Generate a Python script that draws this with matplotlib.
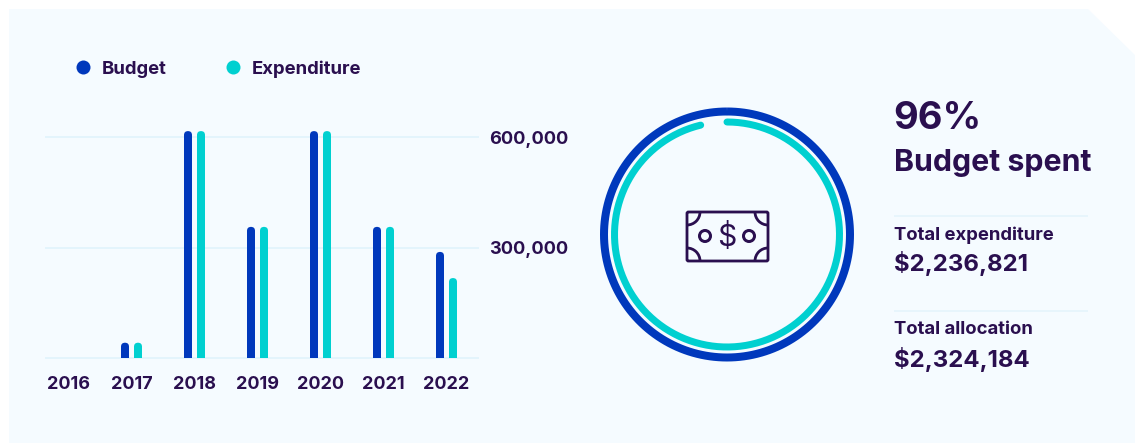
import numpy as np
import matplotlib
matplotlib.use("Agg")
import matplotlib.pyplot as plt
from matplotlib.lines import Line2D
from matplotlib.patches import Arc, Circle, FancyBboxPatch, Polygon

years = ["2016", "2017", "2018", "2019", "2020", "2021", "2022"]
budget = [0, 41500, 616000, 356000, 616000, 356000, 288000]
expenditure = [0, 41500, 616000, 356000, 616000, 356000, 217000]
y_ticks = [0, 300000, 600000]
y_tick_labels = ["", "300,000", "600,000"]
total_expenditure = 2236821
total_allocation = 2324184

INK = "#2A0F4F"
BLUE = "#0038BC"
TEAL = "#00D0D0"
PANEL = "#F5FBFF"
RULE = "#E3F4FC"
FONT = "Inter"
W, H = 1135, 443

plt.rcParams["font.family"] = [FONT, "DejaVu Sans"]
fig = plt.figure(figsize=(W / 100, H / 100), dpi=100, facecolor="white")


def px_axes(left, top, right, bottom, **kwargs):
    """Axes placed by pixel edges, measured from the top-left of the figure."""
    return fig.add_axes([left / W, 1 - bottom / H, (right - left) / W, (bottom - top) / H], **kwargs)


def pt(px):
    return px * 0.72


# Page layer: panel, dividers, headline text and the banknote icon
page = px_axes(0, 0, W, H)
page.set_xlim(0, W)
page.set_ylim(H, 0)
page.axis("off")
page.add_patch(Polygon([(9, 9), (1088, 9), (1135, 55), (1135, 443), (9, 443)], closed=True, fc=PANEL, ec="none"))

for y in (215.5, 310.5):
    page.plot([894, 1088], [y, y], color=RULE, lw=pt(1.5), solid_capstyle="butt")

share = total_expenditure / total_allocation
page.text(893, 119, f"{share:.0%}", fontsize=pt(38), fontweight="bold", color=INK, va="center")
page.text(894, 163, "Budget spent", fontsize=pt(30.3), fontweight="bold", color=INK, va="center")
page.text(894, 235, "Total expenditure", fontsize=pt(18.5), fontweight="bold", color=INK, va="center")
page.text(894, 264, f"${total_expenditure:,}", fontsize=pt(24), fontweight="bold", color=INK, va="center")
page.text(894, 330, "Total allocation", fontsize=pt(18.5), fontweight="bold", color=INK, va="center")
page.text(894, 359, f"${total_allocation:,}", fontsize=pt(24), fontweight="bold", color=INK, va="center")

icon_lw = pt(2.8)
page.add_patch(FancyBboxPatch((687, 212), 81, 49, boxstyle="round,pad=0,rounding_size=1.5",
                              fc="none", ec=INK, lw=icon_lw))
for cx, cy, start in ((687, 212, 0), (768, 212, 90), (768, 261, 180), (687, 261, 270)):
    page.add_patch(Arc((cx, cy), 26, 26, theta1=start, theta2=start + 90, color=INK, lw=icon_lw))
for cx in (705, 749):
    page.add_patch(Circle((cx, 236), 5.5, fc="none", ec=INK, lw=pt(3)))
page.text(727, 237, "$", fontsize=pt(30), color=INK, ha="center", va="center", fontweight="normal")

# Bar chart with the value axis on the right
ax = px_axes(46, 120, 478, 358)
ax.patch.set_alpha(0)
units_per_px = 300000 / 110.5
step_px = 63
ax.set_xlim(-22.5 / step_px, (478 - 68.5) / step_px)
ax.set_ylim(0, (358 - 120) * units_per_px)
bar_w = 8 / step_px
offset = 6.5 / step_px
aspect = units_per_px * step_px


def rounded_bar(x, value, color):
    if value <= 0:
        return
    floor = -20 * units_per_px
    ax.add_patch(FancyBboxPatch((x - bar_w / 2, floor), bar_w, value - floor,
                                boxstyle=f"round,pad=0,rounding_size={bar_w / 2}",
                                mutation_aspect=aspect, fc=color, ec="none", zorder=3))


for i, (b, e) in enumerate(zip(budget, expenditure)):
    rounded_bar(i - offset, b, BLUE)
    rounded_bar(i + offset, e, TEAL)

for spine in ax.spines.values():
    spine.set_visible(False)
ax.set_axisbelow(True)
ax.yaxis.grid(True, color=RULE, lw=pt(2), clip_on=False)
ax.set_xticks(range(len(years)), years)
ax.set_yticks(y_ticks, y_tick_labels)
ax.tick_params(axis="x", length=0, pad=pt(18), labelsize=pt(18), labelcolor=INK)
ax.tick_params(axis="y", length=0, pad=pt(11.5), labelsize=pt(18.2), labelcolor=INK,
               labelleft=False, labelright=True)
for lab in ax.get_xticklabels() + ax.get_yticklabels():
    lab.set_fontweight("bold")
for line in ax.yaxis.get_gridlines():
    line.set_clip_on(False)

handles = [Line2D([], [], ls="none", marker="o", ms=pt(14), color=BLUE, mew=0),
           Line2D([], [], ls="none", marker="o", ms=pt(14), color=TEAL, mew=0)]
leg = page.legend(handles, ["Budget", "Expenditure"], ncol=2, frameon=False, loc="center left",
                  bbox_to_anchor=(70 / W, 1 - 69 / H), prop={"size": pt(18.5), "weight": "bold"},
                  labelcolor=INK, handlelength=1.4, handletextpad=0.3, columnspacing=2.9,
                  borderpad=0, borderaxespad=0)

# Progress ring: full budget outside, spent share inside, running clockwise from the top
radius = 130
ring = px_axes(727 - radius, 234.5 - radius, 727 + radius, 234.5 + radius, projection="polar")
ring.patch.set_alpha(0)
ring.axis("off")
ring.set_theta_zero_location("N")
ring.set_theta_direction(-1)
ring.set_rlim(0, radius)
ring.plot(np.linspace(0, 2 * np.pi, 361), np.full(361, 123), color=BLUE, lw=pt(8), solid_capstyle="butt")
spent_theta = np.linspace(0, 2 * np.pi * share, 361)
ring.plot(spent_theta, np.full(361, 112.5), color=TEAL, lw=pt(7), solid_capstyle="round")

fig.savefig("out.png", dpi=100, facecolor="white")
